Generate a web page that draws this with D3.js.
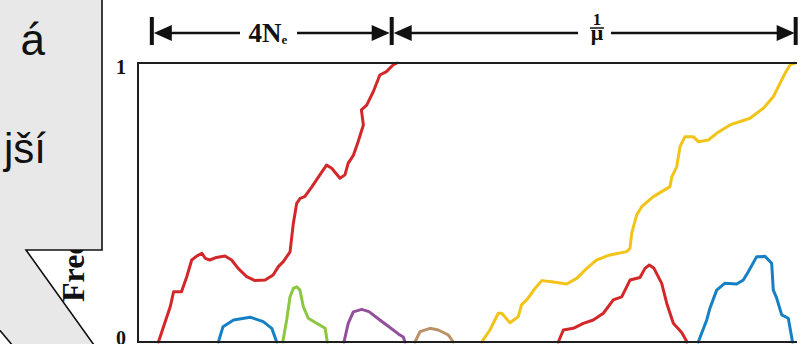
<!DOCTYPE html>
<html>
<head>
<meta charset="utf-8">
<script src="https://cdn.jsdelivr.net/npm/d3@7"></script>
<style>
  html, body { margin: 0; padding: 0; background: #fff; overflow: hidden; }
  svg { display: block; }
</style>
</head>
<body>
<svg id="chart" width="805" height="344"></svg>
<script>
// Allele-frequency trajectories under drift: [time, frequency] pairs.
// Time is in arbitrary generation units (0-100); frequency runs 0-1.
const yTickValues = [0, 1];
const yTickLabels = ["0", "1"];
const yLabel = "Frequency";

// Span markers above the plot (time positions of the bars) and their labels.
const markTimes = [2.1, 38.5, 99.8];
const spanLabelFixation = { main: "4N", sub: "e" };
const spanLabelMutation = { num: "1", den: "μ" };

// Callout text fragments (the rest of the bubble lies outside the view).
const calloutLines = ["á", "jší"];

const redFixed = [
  [3.1, 0], [4.9, 0.127], [5.4, 0.18], [6.6, 0.18], [7.4, 0.234], [8.15, 0.294],
  [8.9, 0.308], [9.7, 0.318], [10.2, 0.30], [10.9, 0.294], [11.9, 0.303], [13.2, 0.308],
  [14.2, 0.294], [15.2, 0.264], [16.5, 0.234], [17.75, 0.22], [19.3, 0.222], [20.5, 0.24],
  [21.3, 0.27], [22.05, 0.288], [23.07, 0.323], [23.57, 0.425], [24.08, 0.497],
  [24.6, 0.515], [25.3, 0.521], [26.4, 0.557], [27.6, 0.599], [28.6, 0.634],
  [29.4, 0.623], [30.65, 0.587], [31.4, 0.599], [31.9, 0.641], [32.7, 0.67],
  [33.4, 0.718], [34.2, 0.778], [33.9, 0.832], [34.7, 0.849], [35.7, 0.897],
  [36.7, 0.957], [37.7, 0.969], [38.7, 0.993], [39.3, 1.0]
];
const blueEarly = [
  [12.2, 0], [12.9, 0.055], [14.5, 0.079], [17.0, 0.089], [19.0, 0.073], [20.3, 0.049], [21.05, 0]
];
const greenLost = [
  [21.96, 0], [22.56, 0.079], [23.07, 0.162], [23.57, 0.192], [24.08, 0.198], [24.58, 0.186],
  [25.08, 0.127], [25.84, 0.085], [27.1, 0.067], [28.4, 0.049], [28.73, 0]
];
const purpleLost = [
  [31.26, 0], [31.9, 0.067], [32.67, 0.108], [33.95, 0.117], [35.05, 0.109], [36.7, 0.079],
  [38.24, 0.052], [39.5, 0.029], [40.26, 0.018], [40.52, 0]
];
const brownLost = [
  [42.03, 0], [42.8, 0.037], [44.3, 0.049], [45.57, 0.043], [47.1, 0.025], [47.84, 0]
];
const yellowFixed = [
  [52.15, 0], [53.4, 0.043], [54.67, 0.103], [55.2, 0.103], [56.45, 0.069], [57.7, 0.091],
  [58.2, 0.133], [59.2, 0.157], [60.24, 0.192], [61.26, 0.22], [62.8, 0.216], [65.05, 0.208],
  [66.57, 0.228], [68.1, 0.264], [69.6, 0.294], [71.6, 0.312], [74.16, 0.324], [74.66, 0.336],
  [74.92, 0.39], [75.67, 0.455], [76.43, 0.485], [78.2, 0.521], [80.73, 0.557], [81.0, 0.592],
  [81.74, 0.628], [82.25, 0.70], [83.0, 0.736], [84.26, 0.736], [85.02, 0.718], [86.54, 0.724],
  [87.8, 0.748], [89.83, 0.778], [92.87, 0.802], [94.9, 0.838], [96.4, 0.879], [97.42, 0.927],
  [98.18, 0.963], [98.94, 0.993], [99.7, 1.0]
];
const redLost = [
  [63.78, 0], [64.54, 0.043], [66.05, 0.049], [67.57, 0.067], [69.09, 0.079], [70.61, 0.103],
  [72.12, 0.151], [73.4, 0.162], [74.66, 0.222], [76.18, 0.231], [76.93, 0.264], [77.59, 0.276],
  [78.3, 0.264], [79.47, 0.21], [80.23, 0.139], [81.23, 0.067], [82.5, 0.034], [83.31, 0]
];
const blueLate = [
  [85.02, 0], [86.3, 0.079], [86.8, 0.122], [87.81, 0.186], [89.07, 0.211], [90.85, 0.208],
  [91.85, 0.222], [92.61, 0.252], [93.88, 0.306], [95.14, 0.307], [96.16, 0.282], [96.4, 0.186],
  [96.92, 0.157], [97.68, 0.097], [98.68, 0.085], [99.32, 0]
];

const trajectories = [redFixed, blueEarly, greenLost, purpleLost, brownLost, yellowFixed, redLost, blueLate];
const trajectoryColors = ["#d3282a", "#1680c4", "#8dc63f", "#92509a", "#bd9168", "#f2c318", "#d3282a", "#1680c4"];

const svg = d3.select("#chart");
const serif = "'Liberation Serif', 'Times New Roman', serif";
const sans = "'Liberation Sans', Arial, sans-serif";

const x = d3.scaleLinear().domain([0, 100]).range([138, 797]);
const y = d3.scaleLinear().domain([0, 1]).range([342, 63]);

// Trajectories
const line = d3.line().x(d => x(d[0])).y(d => y(Math.max(0, d[1])));
svg.append("g")
  .selectAll("path")
  .data(trajectories)
  .join("path")
  .attr("d", line)
  .attr("fill", "none")
  .attr("stroke", (d, i) => trajectoryColors[i])
  .attr("stroke-width", 3)
  .attr("stroke-linejoin", "round")
  .attr("stroke-linecap", "round");

// Frame: left, top and bottom rules
const frame = svg.append("g").attr("stroke", "#1e1e1e").attr("stroke-width", 2).attr("fill", "none");
frame.append("path").attr("d", `M${x(0)},${y(1)}V${y(0)}`);
frame.append("path").attr("d", `M${x(0) - 1},${y(1)}H${x(100)}`);
frame.append("path").attr("d", `M${x(0) - 1},${y(0)}H${x(100)}`);

// Y axis tick labels
const yAxis = d3.axisLeft(y).tickValues(yTickValues).tickSize(0).tickPadding(12)
  .tickFormat((d, i) => yTickLabels[i]);
const gy = svg.append("g").attr("transform", `translate(${x(0)},0)`).call(yAxis);
gy.select(".domain").remove();
gy.selectAll("text")
  .attr("font-family", serif).attr("font-weight", "bold").attr("font-size", 20).attr("fill", "#111")
  .attr("dy", d => d === 1 ? "0.5em" : "0.1em");

// Y axis title
svg.append("text")
  .attr("transform", `translate(84,302) rotate(-90)`)
  .attr("font-family", serif).attr("font-weight", "bold").attr("font-size", 32).attr("fill", "#111")
  .text(yLabel);

// Span markers above the plot
const spanY = 33;
const marks = svg.append("g").attr("fill", "#111").attr("stroke", "#111");
markTimes.forEach(t => {
  marks.append("rect").attr("x", x(t) - 2).attr("y", 17).attr("width", 4).attr("height", 28).attr("stroke", "none");
});
function arrowHead(tipX, dir) {
  const len = 18, half = 8;
  marks.append("path")
    .attr("stroke", "none")
    .attr("d", `M${tipX},${spanY}L${tipX + dir * len},${spanY - half}L${tipX + dir * len},${spanY + half}Z`);
}
function hline(x0, x1) {
  marks.append("path").attr("fill", "none").attr("stroke-width", 2.5).attr("d", `M${x0},${spanY}H${x1}`);
}
const b0 = x(markTimes[0]), b1 = x(markTimes[1]), b2 = x(markTimes[2]);
// first span
arrowHead(b0 + 2, 1);
arrowHead(b1 - 2, -1);
const mid1 = 268;
hline(b0 + 18, 240);
hline(297, b1 - 18);
const lbl1 = svg.append("text")
  .attr("x", mid1).attr("y", spanY + 9).attr("text-anchor", "middle")
  .attr("font-family", serif).attr("font-weight", "bold").attr("font-size", 27).attr("fill", "#111");
lbl1.append("tspan").text(spanLabelFixation.main);
lbl1.append("tspan").attr("font-size", 13).attr("dy", 2).text(spanLabelFixation.sub);
// second span
arrowHead(b1 + 2, 1);
arrowHead(b2 - 1, -1);
const mid2 = 597;
hline(b1 + 18, 578);
hline(611, b2 - 18);
svg.append("text")
  .attr("x", mid2).attr("y", 25).attr("text-anchor", "middle")
  .attr("font-family", serif).attr("font-weight", "bold").attr("font-size", 17).attr("fill", "#111")
  .text(spanLabelMutation.num);
svg.append("path").attr("d", `M${mid2 - 7},28H${mid2 + 7}`).attr("stroke", "#111").attr("stroke-width", 1.5);
svg.append("text")
  .attr("x", mid2).attr("y", 40).attr("text-anchor", "middle")
  .attr("font-family", serif).attr("font-weight", "bold").attr("font-size", 22).attr("fill", "#111")
  .text(spanLabelMutation.den);

// Speech-bubble callout overlapping the left edge
const callout = svg.append("g");
callout.append("path")
  .attr("d", "M-5,-5H102V250H26L99,352H18L0,330L-5,324Z")
  .attr("fill", "#e8e8e8");
const edges = callout.append("g").attr("stroke", "#111").attr("stroke-width", 1.6).attr("fill", "none");
edges.append("path").attr("d", "M102,-5V250H26L99,352");
edges.append("path").attr("d", "M-2,328L18,352");
callout.append("text")
  .attr("x", 45).attr("y", 55).attr("text-anchor", "end")
  .attr("font-family", sans).attr("font-size", 44).attr("fill", "#111")
  .text(calloutLines[0]);
callout.append("text")
  .attr("x", 46).attr("y", 163).attr("text-anchor", "end")
  .attr("font-family", sans).attr("font-size", 42).attr("fill", "#111")
  .text(calloutLines[1]);
</script>
</body>
</html>
